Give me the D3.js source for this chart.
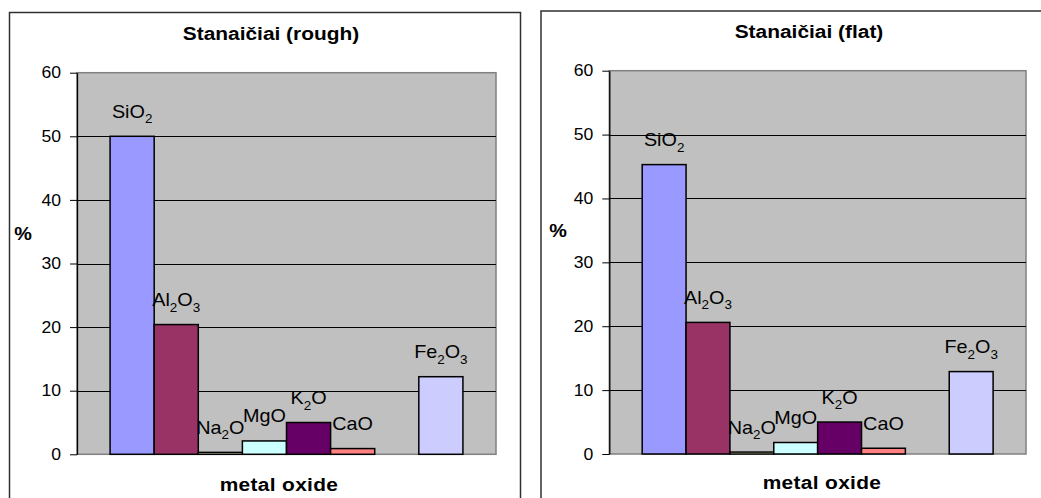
<!DOCTYPE html>
<html>
<head>
<meta charset="utf-8">
<script src="https://cdn.jsdelivr.net/npm/d3@7"></script>
<style>
  html, body { margin: 0; padding: 0; background: #ffffff; }
  svg { display: block; }
  text { font-family: Arial, "Liberation Sans", sans-serif; fill: #000; }
</style>
</head>
<body>
<svg id="chart" width="1041" height="498"></svg>
<script>
// Metal oxide composition of Stanaičiai samples (weight %)
const oxides = ["SiO2", "Al2O3", "Na2O", "MgO", "K2O", "CaO", "", "Fe2O3"];
const roughValues = [50.0, 20.4, 0.3, 2.1, 5.0, 0.9, null, 12.2];
const flatValues = [45.3, 20.6, 0.3, 1.8, 5.0, 0.9, null, 12.9];
const barColors = ["#9999FF", "#993366", "#FFFFCC", "#CCFFFF", "#660066", "#FF8080", "#0066CC", "#CCCCFF"];
const yTicks = [0, 10, 20, 30, 40, 50, 60];
const panelTitles = ["Stanaičiai (rough)", "Stanaičiai (flat)"];
const xAxisTitle = "metal oxide";
const yAxisTitle = "%";

// Layout of the two panels
const panels = [
  { values: roughValues, title: panelTitles[0],
    box: { x: 9.5, y: 12.5, w: 511, h: 500 },
    plot: { left: 77, right: 496, top: 72.7, bottom: 454.3 },
    titlePos: [271, 39.5], yTitlePos: [23, 240], xTitlePos: [279, 490.5] },
  { values: flatValues, title: panelTitles[1],
    box: { x: 541, y: 11, w: 520, h: 500 },
    plot: { left: 609.3, right: 1026, top: 70.7, bottom: 454 },
    titlePos: [809, 37.5], yTitlePos: [558, 237], xTitlePos: [822, 488.5] }
];

const SX = 1.1; // horizontal text stretch
const svg = d3.select("#chart");

// Writes a formula such as "Al2O3" with digits as subscripts
function formula(sel, name, size) {
  const parts = name.split(/(\d+)/).filter(p => p !== "");
  parts.forEach(p => {
    if (/^\d+$/.test(p)) {
      sel.append("tspan").attr("font-size", size * 0.68).attr("dy", 5.5).text(p);
    } else {
      const t = sel.append("tspan").attr("font-size", size).text(p);
      if (sel.selectAll("tspan").size() > 1) t.attr("dy", -5.5);
    }
  });
}

panels.forEach(p => {
  const g = svg.append("g");

  // Chart frame
  g.append("rect")
    .attr("x", p.box.x).attr("y", p.box.y)
    .attr("width", p.box.w).attr("height", p.box.h)
    .attr("fill", "#fff").attr("stroke", "#303030").attr("stroke-width", 1.5);

  const x = d3.scaleBand()
    .domain(d3.range(oxides.length))
    .range([p.plot.left, p.plot.right])
    .paddingInner(0).paddingOuter(0.75);
  const y = d3.scaleLinear().domain([0, 60]).range([p.plot.bottom, p.plot.top]);

  // Plot area
  g.append("rect")
    .attr("x", p.plot.left).attr("y", p.plot.top)
    .attr("width", p.plot.right - p.plot.left)
    .attr("height", p.plot.bottom - p.plot.top)
    .attr("fill", "#C0C0C0").attr("stroke", "#808080").attr("stroke-width", 1.5);

  // Gridlines
  g.append("g").selectAll("line")
    .data(yTicks.filter(t => t > 0 && t < 60))
    .join("line")
    .attr("x1", p.plot.left).attr("x2", p.plot.right)
    .attr("y1", d => Math.round(y(d)) + 0.5).attr("y2", d => Math.round(y(d)) + 0.5)
    .attr("stroke", "#000").attr("stroke-width", 1);

  // Y axis
  const ax = g.append("g")
    .attr("transform", `translate(${p.plot.left},0)`)
    .call(d3.axisLeft(y).tickValues(yTicks).tickSize(7).tickPadding(9).tickSizeOuter(0));
  ax.select(".domain").attr("stroke", "#000").attr("stroke-width", 1.3);
  ax.selectAll(".tick line").attr("stroke", "#000").attr("stroke-width", 1);
  ax.selectAll("text")
    .attr("font-size", 16).attr("font-family", "Arial, 'Liberation Sans', sans-serif")
    .attr("fill", "#000")
    .each(function () {
      const t = d3.select(this);
      t.attr("x", +t.attr("x") / SX).attr("transform", `scale(${SX},1)`);
    });

  // Bars
  const rows = oxides.map((name, i) => ({ name, i, v: p.values[i], color: barColors[i] }))
    .filter(d => d.v !== null);
  g.append("g").selectAll("rect")
    .data(rows)
    .join("rect")
    .attr("x", d => x(d.i))
    .attr("width", x.bandwidth())
    .attr("y", d => y(d.v))
    .attr("height", d => y(0) - y(d.v))
    .attr("fill", d => d.color)
    .attr("stroke", "#000").attr("stroke-width", 1.5);

  // Series labels above bars
  g.append("g").selectAll("text")
    .data(rows)
    .join("text")
    .attr("text-anchor", "middle")
    .attr("transform", d => `translate(${x(d.i) + x.bandwidth() / 2},${y(d.v) - 18.5}) scale(${SX},1)`)
    .attr("font-size", 18)
    .each(function (d) { formula(d3.select(this), d.name, 18); });

  // Titles
  g.append("text")
    .attr("text-anchor", "middle")
    .attr("transform", `translate(${p.titlePos[0]},${p.titlePos[1]}) scale(${SX},1)`)
    .attr("font-size", 19).attr("font-weight", "bold")
    .text(p.title);
  g.append("text")
    .attr("text-anchor", "middle")
    .attr("transform", `translate(${p.yTitlePos[0]},${p.yTitlePos[1]}) scale(${SX},1)`)
    .attr("font-size", 18).attr("font-weight", "bold")
    .text(yAxisTitle);
  g.append("text")
    .attr("text-anchor", "middle")
    .attr("transform", `translate(${p.xTitlePos[0]},${p.xTitlePos[1]}) scale(${SX},1)`)
    .attr("font-size", 19).attr("font-weight", "bold").attr("letter-spacing", 0.3)
    .text(xAxisTitle);
});
</script>
</body>
</html>
